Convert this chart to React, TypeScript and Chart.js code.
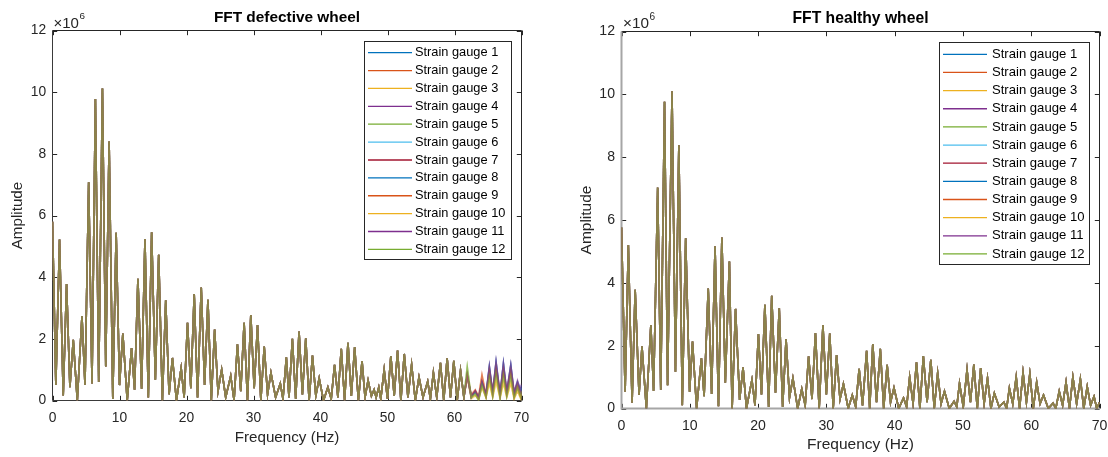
import React, { useEffect, useRef } from "react";
import { Chart, registerables } from "chart.js";

Chart.register(...registerables);

// ---------------- data ----------------
const GAUGE_LABELS = [
  "Strain gauge 1", "Strain gauge 2", "Strain gauge 3", "Strain gauge 4",
  "Strain gauge 5", "Strain gauge 6", "Strain gauge 7", "Strain gauge 8",
  "Strain gauge 9", "Strain gauge 10", "Strain gauge 11", "Strain gauge 12",
];

const X_TICKS = [0, 10, 20, 30, 40, 50, 60, 70];
const Y_TICKS = [0, 2, 4, 6, 8, 10, 12];

// Defective wheel: trace shared by all gauges (Hz, amplitude x10^6)
const DEF_FREQ = [0, 0.5, 1.05, 1.6, 2.1, 2.6, 3.1, 3.7, 4.4, 4.85, 5.4, 5.9, 6.4, 6.9, 7.45, 7.95, 8.45, 9.0, 9.5, 10.0, 10.5, 11.15, 11.8, 12.25, 12.75, 13.3, 13.8, 14.3, 14.8, 15.35, 15.85, 16.4, 16.9, 17.4, 17.9, 18.5, 19.2, 19.65, 20.15, 20.65, 21.15, 21.65, 22.2, 22.7, 23.2, 23.7, 24.2, 24.7, 25.25, 25.85, 26.6, 27.1, 27.6, 28.1, 28.6, 29.1, 29.6, 30.1, 30.6, 31.1, 31.6, 32.1, 32.6, 33.3, 34.0, 34.4, 34.9, 35.3, 35.8, 36.3, 36.8, 37.3, 37.8, 38.3, 38.8, 39.3, 39.8, 40.45, 41.1, 41.6, 42.1, 42.6, 43.1, 43.6, 44.1, 44.6, 45.1, 45.65, 46.2, 46.65, 47.1, 47.6, 48.0, 48.3, 48.7, 49.0, 49.5, 50.0, 50.5, 51.0, 51.5, 52.0, 52.5, 53.05, 53.6, 54.15, 54.7, 55.3, 56.0, 56.4, 56.85, 57.35, 57.9, 58.4, 58.9, 59.4, 59.9, 60.4, 60.9, 61.4];
const DEF_AMP = [5.8, 0.5, 5.22, 0.16, 3.78, 0.43, 1.97, 0.0, 2.74, 0.5, 7.08, 0.55, 9.78, 0.6, 10.12, 1.1, 8.4, 0.05, 5.44, 0.5, 2.17, 0.0, 1.7, 0.35, 3.95, 0.38, 5.24, 0.1, 5.46, 0.67, 4.73, 0.0, 3.25, 0.2, 1.38, 0.0, 1.05, 0.1, 2.52, 0.4, 3.45, 0.1, 3.66, 0.5, 3.27, 0.0, 2.3, 0.3, 1.0, 0.1, 0.8, 0.0, 1.82, 0.3, 2.52, 0.0, 2.77, 0.4, 2.45, 0.0, 1.75, 0.2, 0.9, 0.1, 0.55, 0.05, 1.4, 0.1, 2.0, 0.05, 2.24, 0.2, 2.02, 0.0, 1.46, 0.15, 0.72, 0.0, 0.43, 0.05, 1.16, 0.1, 1.68, 0.0, 1.87, 0.15, 1.73, 0.0, 1.28, 0.1, 0.65, 0.15, 0.35, 0.1, 0.43, 0.05, 1.0, 0.05, 1.44, 0.15, 1.62, 0.0, 1.51, 0.1, 1.16, 0.0, 0.76, 0.1, 0.62, 0.05, 0.9, 0.1, 1.22, 0.0, 1.37, 0.1, 1.29, 0.0, 0.97, 0.1];

// Defective wheel: high-frequency end where gauges separate
const DEF_TAIL_FREQ = [61.9, 62.5, 63.1, 63.6, 64.1, 64.7, 65.2, 65.7, 66.2, 66.8, 67.3, 67.8, 68.4, 68.9, 69.4, 69.9, 70];
const DEF_TAIL_G1 = [0.8, 0.15, 0.3, 0.1, 0.6, 0.15, 1.1, 0.2, 1.25, 0.15, 1.2, 0.25, 1.15, 0.2, 0.6, 0.3, 0.5];
const DEF_TAIL_G2 = [0.85, 0.2, 0.35, 0.15, 0.85, 0.2, 1.0, 0.3, 1.1, 0.2, 1.05, 0.3, 1.0, 0.25, 0.55, 0.2, 0.35];
const DEF_TAIL_G3 = [0.75, 0.05, 0.15, 0.05, 0.4, 0.1, 0.55, 0.1, 0.6, 0.1, 0.55, 0.1, 0.55, 0.05, 0.3, 0.05, 0.2];
const DEF_TAIL_G4 = [0.8, 0.1, 0.3, 0.05, 0.6, 0.2, 1.12, 0.25, 1.27, 0.2, 1.22, 0.3, 1.17, 0.25, 0.65, 0.3, 0.55];
const DEF_TAIL_G5 = [1.08, 0.1, 0.2, 0.0, 0.5, 0.1, 0.75, 0.15, 0.85, 0.1, 0.8, 0.15, 0.75, 0.1, 0.4, 0.1, 0.3];
const DEF_TAIL_G6 = [0.8, 0.15, 0.25, 0.1, 0.55, 0.15, 0.95, 0.2, 1.05, 0.15, 1.0, 0.2, 0.95, 0.15, 0.5, 0.15, 0.4];
const DEF_TAIL_G7 = [0.8, 0.1, 0.3, 0.05, 0.6, 0.15, 0.9, 0.2, 1.0, 0.15, 0.95, 0.2, 0.9, 0.1, 0.45, 0.1, 0.3];
const DEF_TAIL_G8 = [0.82, 0.1, 0.28, 0.1, 0.58, 0.2, 1.08, 0.25, 1.22, 0.2, 1.18, 0.2, 1.12, 0.2, 0.58, 0.25, 0.45];
const DEF_TAIL_G9 = [0.85, 0.15, 0.33, 0.1, 0.8, 0.15, 0.98, 0.25, 1.08, 0.2, 1.02, 0.25, 0.98, 0.2, 0.52, 0.2, 0.3];
const DEF_TAIL_G10 = [0.78, 0.1, 0.18, 0.05, 0.45, 0.1, 0.6, 0.1, 0.65, 0.05, 0.6, 0.1, 0.58, 0.05, 0.32, 0.05, 0.22];
const DEF_TAIL_G11 = [0.8, 0.15, 0.32, 0.1, 0.62, 0.2, 1.1, 0.3, 1.25, 0.25, 1.2, 0.3, 1.15, 0.3, 0.62, 0.3, 0.5];
const DEF_TAIL_G12 = [1.1, 0.1, 0.22, 0.0, 0.5, 0.1, 0.78, 0.15, 0.88, 0.1, 0.82, 0.15, 0.78, 0.1, 0.42, 0.1, 0.3];
const DEF_TAILS = [DEF_TAIL_G1, DEF_TAIL_G2, DEF_TAIL_G3, DEF_TAIL_G4, DEF_TAIL_G5, DEF_TAIL_G6, DEF_TAIL_G7, DEF_TAIL_G8, DEF_TAIL_G9, DEF_TAIL_G10, DEF_TAIL_G11, DEF_TAIL_G12];

// Healthy wheel: all twelve gauges overlap on this trace
const HEALTHY_FREQ = [0, 0.53, 1.0, 1.55, 2.0, 2.57, 3.0, 3.64, 4.3, 4.7, 5.3, 5.75, 6.3, 6.75, 7.4, 7.9, 8.4, 8.9, 9.4, 9.97, 10.4, 11.0, 11.7, 12.1, 12.7, 13.2, 13.7, 14.2, 14.7, 15.2, 15.8, 16.2, 16.7, 17.3, 17.8, 18.3, 19.1, 19.55, 20.05, 20.5, 21.0, 21.55, 22.0, 22.55, 23.1, 23.6, 24.1, 24.6, 25.1, 25.8, 26.4, 26.9, 27.4, 27.9, 28.4, 28.95, 29.5, 30.0, 30.5, 31.0, 31.5, 32.0, 32.5, 33.2, 33.8, 34.3, 34.8, 35.3, 35.9, 36.35, 36.8, 37.35, 37.9, 38.4, 38.9, 39.4, 39.9, 40.6, 41.3, 41.75, 42.2, 42.7, 43.2, 43.7, 44.2, 44.75, 45.3, 45.8, 46.3, 46.8, 47.3, 48.0, 48.7, 49.1, 49.5, 50.05, 50.6, 51.1, 51.6, 52.1, 52.6, 53.1, 53.6, 54.1, 54.6, 55.3, 56.0, 56.4, 56.8, 57.3, 57.8, 58.3, 58.8, 59.3, 59.8, 60.3, 60.8, 61.3, 61.8, 62.5, 63.2, 63.6, 64.1, 64.6, 65.1, 65.6, 66.1, 66.65, 67.2, 67.7, 68.2, 68.7, 69.2, 69.6, 70.0];
const HEALTHY_AMP = [5.76, 0.53, 5.2, 0.18, 3.78, 0.43, 1.98, 0.0, 2.66, 0.56, 7.03, 0.6, 9.76, 0.74, 10.1, 1.17, 8.38, 0.1, 5.42, 0.53, 2.13, 0.0, 1.6, 0.39, 3.82, 0.46, 5.16, 0.07, 5.44, 0.82, 4.68, 0.0, 3.17, 0.27, 1.31, 0.0, 0.91, 0.1, 2.37, 0.45, 3.3, 0.05, 3.59, 0.5, 3.19, 0.05, 2.21, 0.35, 0.97, 0.0, 0.62, 0.1, 1.66, 0.3, 2.4, 0.0, 2.66, 0.45, 2.39, 0.0, 1.7, 0.3, 0.78, 0.0, 0.43, 0.05, 1.26, 0.1, 1.84, 0.0, 2.05, 0.2, 1.9, 0.0, 1.39, 0.2, 0.66, 0.0, 0.34, 0.05, 1.0, 0.15, 1.47, 0.0, 1.67, 0.2, 1.55, 0.0, 1.13, 0.15, 0.55, 0.0, 0.23, 0.05, 0.8, 0.05, 1.23, 0.2, 1.4, 0.0, 1.29, 0.15, 0.97, 0.0, 0.49, 0.05, 0.2, 0.0, 0.65, 0.15, 1.0, 0.0, 1.15, 0.2, 1.1, 0.0, 0.84, 0.15, 0.43, 0.0, 0.17, 0.0, 0.55, 0.1, 0.84, 0.0, 1.0, 0.15, 0.94, 0.0, 0.7, 0.1, 0.38, 0.0, 0.2];

// ---------------- styles ----------------
const FONT = '"Liberation Sans", Arial, Helvetica, sans-serif';
const GAUGE_COLORS = [
  [0, 114, 189], [217, 83, 25], [237, 177, 32], [126, 47, 142], [119, 172, 48], [77, 190, 238],
  [162, 20, 47], [0, 114, 189], [217, 83, 25], [237, 177, 32], [126, 47, 142], [119, 172, 48],
];
const LINE_ALPHA = 0.5;
const LINE_WIDTH = 1.6;
const TICK_LEN = 4.7;
const TEXT_COLOR = "#262626";

const LEFT_GEOM = {
  canvasLeft: 0, width: 560, height: 457,
  plot: { left: 52.5, top: 30.5, right: 521.5, bottom: 400.5 },
  tickFont: 13.8, tickPadY: 6.3, tickPadX: 9,
  titleFont: 15.4, titleY: 18, labelFont: 15.2, xLabelY: 437.5, yLabelX: 17.5,
  expX: 53.5, expY: 27.5, expFont: 15,
  boxColor: "#262626", lbColor: "#3a3a3a", lbWidth: 1,
  legend: { left: 364.5, top: 41.5, right: 511.5, bottom: 259.5, row0: 52.7, rowStep: 17.88, lineX0: 368, lineX1: 412, textX: 415, font: 12.8 },
};
const RIGHT_GEOM = {
  canvasLeft: 560, width: 548, height: 457,
  plot: { left: 61.5, top: 31.5, right: 539.5, bottom: 408.5 },
  tickFont: 14.1, tickPadY: 6.5, tickPadX: 8.8,
  titleFont: 15.7, titleY: 19, labelFont: 15.5, xLabelY: 445, yLabelX: 26.5,
  expX: 63, expY: 28.3, expFont: 15.3,
  boxColor: "#262626", lbColor: "#a6a6a6", lbWidth: 2,
  legend: { left: 379.5, top: 42.5, right: 529.5, bottom: 264.5, row0: 54.3, rowStep: 18.15, lineX0: 383, lineX1: 427, textX: 432, font: 13.1 },
};

type Geom = typeof LEFT_GEOM;

function rgba(c: number[], a: number) {
  return `rgba(${c[0]},${c[1]},${c[2]},${a})`;
}

function toPoints(freq: number[], amp: number[]) {
  return freq.map((f, i) => ({ x: f, y: amp[i] }));
}

function makeDatasets(pointsFor: (i: number) => { x: number; y: number }[]) {
  return GAUGE_LABELS.map((label, i) => ({
    label,
    data: pointsFor(i),
    borderColor: rgba(GAUGE_COLORS[i], LINE_ALPHA),
    backgroundColor: rgba(GAUGE_COLORS[i], 1),
    borderWidth: LINE_WIDTH,
    pointRadius: 0,
    tension: 0,
    fill: false,
    order: GAUGE_LABELS.length - 1 - i,
  }));
}

function decorPlugin(g: Geom, title: string) {
  return {
    id: "matlabDecor",
    beforeDatasetsDraw(chart: any) {
      const ctx = chart.ctx as CanvasRenderingContext2D;
      const a = chart.chartArea;
      const xs = chart.scales.x;
      const ys = chart.scales.y;
      ctx.save();
      ctx.strokeStyle = g.boxColor;
      ctx.lineWidth = 1;
      ctx.beginPath();
      ctx.moveTo(a.left, a.top);
      ctx.lineTo(a.right, a.top);
      ctx.lineTo(a.right, a.bottom);
      X_TICKS.forEach((v) => {
        const p = Math.round(xs.getPixelForValue(v)) + 0.5;
        ctx.moveTo(p, a.bottom);
        ctx.lineTo(p, a.bottom - TICK_LEN);
        ctx.moveTo(p, a.top);
        ctx.lineTo(p, a.top + TICK_LEN);
      });
      Y_TICKS.forEach((v) => {
        const p = Math.round(ys.getPixelForValue(v)) + 0.5;
        ctx.moveTo(a.left, p);
        ctx.lineTo(a.left + TICK_LEN, p);
        ctx.moveTo(a.right, p);
        ctx.lineTo(a.right - TICK_LEN, p);
      });
      ctx.stroke();
      ctx.strokeStyle = g.lbColor;
      ctx.lineWidth = g.lbWidth;
      ctx.beginPath();
      ctx.moveTo(a.left, a.top);
      ctx.lineTo(a.left, a.bottom);
      ctx.lineTo(a.right, a.bottom);
      ctx.stroke();
      ctx.restore();
    },
    afterDraw(chart: any) {
      const ctx = chart.ctx as CanvasRenderingContext2D;
      const a = chart.chartArea;
      const cx = (a.left + a.right) / 2;
      const cy = (a.top + a.bottom) / 2;
      ctx.save();
      // title
      ctx.fillStyle = "#000";
      ctx.font = `bold ${g.titleFont}px ${FONT}`;
      ctx.textAlign = "center";
      ctx.textBaseline = "middle";
      ctx.fillText(title, cx, g.titleY);
      // axis labels
      ctx.fillStyle = TEXT_COLOR;
      ctx.font = `${g.labelFont}px ${FONT}`;
      ctx.fillText("Frequency (Hz)", cx, g.xLabelY);
      ctx.save();
      ctx.translate(g.yLabelX, cy);
      ctx.rotate(-Math.PI / 2);
      ctx.fillText("Amplitude", 0, 0);
      ctx.restore();
      // exponent
      ctx.textAlign = "left";
      ctx.textBaseline = "alphabetic";
      ctx.font = `${g.expFont}px ${FONT}`;
      ctx.fillText("\u00d710", g.expX, g.expY);
      const w = ctx.measureText("\u00d710").width;
      ctx.font = `${g.expFont * 0.66}px ${FONT}`;
      ctx.fillText("6", g.expX + w + 0.5, g.expY - g.expFont * 0.55);
      // legend
      const L = g.legend;
      ctx.fillStyle = "#fff";
      ctx.fillRect(L.left, L.top, L.right - L.left, L.bottom - L.top);
      ctx.strokeStyle = TEXT_COLOR;
      ctx.lineWidth = 1;
      ctx.strokeRect(L.left, L.top, L.right - L.left, L.bottom - L.top);
      ctx.font = `${L.font}px ${FONT}`;
      ctx.textBaseline = "middle";
      chart.data.datasets.forEach((ds: any, i: number) => {
        const y = L.row0 + i * L.rowStep;
        ctx.strokeStyle = ds.backgroundColor;
        ctx.lineWidth = 1.3;
        ctx.beginPath();
        ctx.moveTo(L.lineX0, y);
        ctx.lineTo(L.lineX1, y);
        ctx.stroke();
        ctx.fillStyle = "#000";
        ctx.fillText(ds.label, L.textX, y);
      });
      ctx.restore();
    },
  };
}

function FftPanel({ geom, title, datasets }: { geom: Geom; title: string; datasets: any[] }) {
  const ref = useRef<HTMLCanvasElement>(null);
  useEffect(() => {
    const g = geom;
    const chart = new Chart(ref.current as HTMLCanvasElement, {
      type: "line",
      data: { datasets },
      plugins: [decorPlugin(g, title)],
      options: {
        responsive: false,
        maintainAspectRatio: false,
        animation: false,
        events: [],
        parsing: false,
        normalized: true,
        layout: {
          padding: {
            left: 0,
            top: g.plot.top,
            right: g.width - g.plot.right,
            bottom: 0,
          },
        },
        plugins: {
          legend: { display: false },
          title: { display: false },
          tooltip: { enabled: false },
        },
        scales: {
          x: {
            type: "linear",
            min: 0,
            max: 70,
            afterBuildTicks: (s: any) => {
              s.ticks = X_TICKS.map((v) => ({ value: v }));
            },
            afterFit: (s: any) => {
              s.height = g.height - g.plot.bottom;
              s.paddingLeft = 0;
              s.paddingRight = 0;
            },
            grid: { display: false, drawTicks: false },
            border: { display: false },
            ticks: {
              padding: g.tickPadX,
              color: TEXT_COLOR,
              font: { family: FONT, size: g.tickFont },
              maxRotation: 0,
              autoSkip: false,
            },
          },
          y: {
            type: "linear",
            min: 0,
            max: 12,
            afterBuildTicks: (s: any) => {
              s.ticks = Y_TICKS.map((v) => ({ value: v }));
            },
            afterFit: (s: any) => {
              s.width = g.plot.left;
              s.paddingTop = 0;
              s.paddingBottom = 0;
            },
            grid: { display: false, drawTicks: false },
            border: { display: false },
            ticks: {
              padding: g.tickPadY,
              color: TEXT_COLOR,
              font: { family: FONT, size: g.tickFont },
              autoSkip: false,
            },
          },
        },
      } as any,
    });
    return () => chart.destroy();
  }, []);
  return (
    <canvas
      ref={ref}
      width={geom.width}
      height={geom.height}
      style={{ position: "absolute", left: geom.canvasLeft, top: 0, width: geom.width, height: geom.height, display: "block" }}
    />
  );
}

export default function App() {
  const defectiveSets = makeDatasets((i) =>
    toPoints(DEF_FREQ, DEF_AMP).concat(toPoints(DEF_TAIL_FREQ, DEF_TAILS[i]))
  );
  const healthySets = makeDatasets(() => toPoints(HEALTHY_FREQ, HEALTHY_AMP));
  return (
    <div style={{ position: "absolute", left: 0, top: 0, width: 1108, height: 457, background: "#fff", overflow: "hidden" }}>
      <FftPanel geom={LEFT_GEOM} title="FFT defective wheel" datasets={defectiveSets} />
      <FftPanel geom={RIGHT_GEOM} title="FFT healthy wheel" datasets={healthySets} />
    </div>
  );
}
